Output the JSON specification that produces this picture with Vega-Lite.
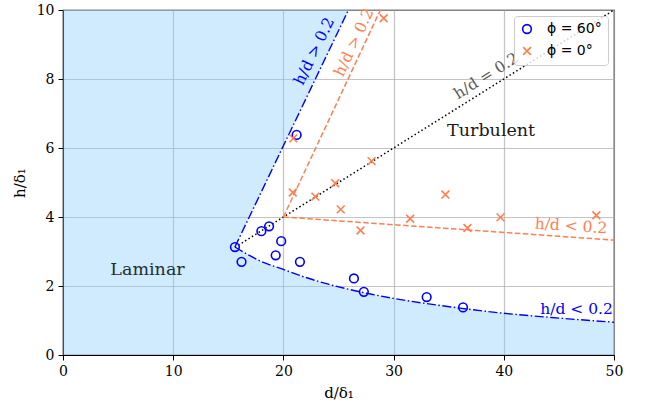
{
  "$schema": "https://vega.github.io/schema/vega-lite/v6.json",
  "width": 551,
  "height": 345,
  "autosize": "none",
  "padding": {"left": 63, "top": 10, "right": 33, "bottom": 50},
  "background": "white",
  "config": {
    "view": {"stroke": "#000", "strokeWidth": 1.2},
    "font": "DejaVu Serif",
    "axis": {
      "labelFont": "DejaVu Serif", "labelFontSize": 14, "labelColor": "#000", "labelFlush": false,
      "titleFont": "DejaVu Serif", "titleFontSize": 15, "titleFontWeight": "normal", "titleColor": "#000",
      "domainColor": "#000", "tickColor": "#000", "tickSize": 5, "labelPadding": 4,
      "gridColor": "#b0b0b0", "gridOpacity": 0.75, "gridWidth": 1.2
    },
    "legend": {
      "orient": "top-right", "offset": 6, "padding": 6,
      "fillColor": "rgba(255,255,255,0.8)", "strokeColor": "#cccccc", "cornerRadius": 3,
      "labelFont": "DejaVu Sans", "labelFontSize": 14, "labelColor": "#000",
      "symbolStrokeWidth": 1.6, "symbolSize": 75, "rowPadding": 6, "labelOffset": 13
    }
  },
  "datasets": {
    "region": [
      {"d": 50, "h": 0}, {"d": 50, "h": 0.95}, {"d": 45, "h": 1.07}, {"d": 40, "h": 1.21},
      {"d": 36, "h": 1.36}, {"d": 33, "h": 1.49}, {"d": 30, "h": 1.64}, {"d": 28, "h": 1.76},
      {"d": 26, "h": 1.9}, {"d": 24, "h": 2.06}, {"d": 22, "h": 2.25}, {"d": 20, "h": 2.48},
      {"d": 18, "h": 2.71}, {"d": 17, "h": 2.87}, {"d": 15.6, "h": 3.13}, {"d": 25.9, "h": 10}
    ],
    "curve": [
      {"d": 15.6, "h": 3.13}, {"d": 17, "h": 2.87}, {"d": 18, "h": 2.71}, {"d": 20, "h": 2.48},
      {"d": 22, "h": 2.25}, {"d": 24, "h": 2.06}, {"d": 26, "h": 1.9}, {"d": 28, "h": 1.76},
      {"d": 30, "h": 1.64}, {"d": 33, "h": 1.49}, {"d": 36, "h": 1.36}, {"d": 40, "h": 1.21},
      {"d": 45, "h": 1.07}, {"d": 50, "h": 0.95}
    ],
    "points": [
      {"phi": "ϕ = 60°", "d": 15.6, "h": 3.13}, {"phi": "ϕ = 60°", "d": 16.2, "h": 2.7},
      {"phi": "ϕ = 60°", "d": 18.0, "h": 3.59}, {"phi": "ϕ = 60°", "d": 18.7, "h": 3.73},
      {"phi": "ϕ = 60°", "d": 19.8, "h": 3.3}, {"phi": "ϕ = 60°", "d": 19.3, "h": 2.89},
      {"phi": "ϕ = 60°", "d": 21.2, "h": 6.38}, {"phi": "ϕ = 60°", "d": 21.5, "h": 2.7},
      {"phi": "ϕ = 60°", "d": 26.4, "h": 2.22}, {"phi": "ϕ = 60°", "d": 27.3, "h": 1.83},
      {"phi": "ϕ = 60°", "d": 33.0, "h": 1.68}, {"phi": "ϕ = 60°", "d": 36.3, "h": 1.38},
      {"phi": "ϕ = 0°", "d": 20.9, "h": 6.28}, {"phi": "ϕ = 0°", "d": 29.1, "h": 9.76},
      {"phi": "ϕ = 0°", "d": 20.85, "h": 4.71}, {"phi": "ϕ = 0°", "d": 22.9, "h": 4.59},
      {"phi": "ϕ = 0°", "d": 24.7, "h": 4.98}, {"phi": "ϕ = 0°", "d": 28.0, "h": 5.62},
      {"phi": "ϕ = 0°", "d": 25.2, "h": 4.22}, {"phi": "ϕ = 0°", "d": 27.0, "h": 3.61},
      {"phi": "ϕ = 0°", "d": 31.5, "h": 3.95}, {"phi": "ϕ = 0°", "d": 34.7, "h": 4.65},
      {"phi": "ϕ = 0°", "d": 36.7, "h": 3.68}, {"phi": "ϕ = 0°", "d": 39.7, "h": 3.99},
      {"phi": "ϕ = 0°", "d": 48.4, "h": 4.05}
    ]
  },
  "encoding": {
    "x": {"field": "d", "type": "quantitative", "scale": {"domain": [0, 50], "nice": false},
          "axis": {"values": [0, 10, 20, 30, 40, 50], "grid": true, "title": "d/δ₁", "titlePadding": 7}},
    "y": {"field": "h", "type": "quantitative", "scale": {"domain": [0, 10], "nice": false},
          "axis": {"values": [0, 2, 4, 6, 8, 10], "grid": true, "title": "h/δ₁", "titlePadding": 9}}
  },
  "layer": [
    {
      "data": {"name": "region"},
      "mark": {"type": "area", "orient": "horizontal", "color": "#87cefa", "opacity": 0.4},
      "encoding": {"x2": {"datum": 0}}
    },
    {
      "data": {"values": [{"d": 15.6, "h": 3.12}, {"d": 50, "h": 10}]},
      "mark": {"type": "line", "color": "#000", "strokeWidth": 1.5, "strokeDash": [1.5, 2.5]},
      "encoding": {}
    },
    {
      "data": {"values": [{"d": 15.6, "h": 3.13}, {"d": 25.9, "h": 10}]},
      "mark": {"type": "line", "color": "#0000ff", "strokeWidth": 1.4, "strokeDash": [9, 2.5, 1.5, 2.5]},
      "encoding": {}
    },
    {
      "data": {"name": "curve"},
      "mark": {"type": "line", "color": "#0000ff", "strokeWidth": 1.4, "strokeDash": [9, 2.5, 1.5, 2.5], "interpolate": "monotone"},
      "encoding": {}
    },
    {
      "data": {"values": [{"d": 20, "h": 4}, {"d": 28.8, "h": 10}]},
      "mark": {"type": "line", "color": "#ff7f50", "strokeWidth": 1.5, "strokeDash": [5.5, 2.5]},
      "encoding": {}
    },
    {
      "data": {"values": [{"d": 20, "h": 4}, {"d": 50, "h": 3.33}]},
      "mark": {"type": "line", "color": "#ff7f50", "strokeWidth": 1.5, "strokeDash": [5.5, 2.5]},
      "encoding": {}
    },
    {
      "data": {"name": "points"},
      "mark": {"type": "point", "filled": false, "strokeWidth": 1.6, "size": 75, "opacity": 1},
      "encoding": {
        "color": {"field": "phi", "type": "nominal",
                  "scale": {"domain": ["ϕ = 60°", "ϕ = 0°"], "range": ["#0000ff", "#ff7f50"]},
                  "legend": {"title": null}},
        "shape": {"field": "phi", "type": "nominal",
                  "scale": {"domain": ["ϕ = 60°", "ϕ = 0°"], "range": ["circle", "M-0.9,-0.9L0.9,0.9M-0.9,0.9L0.9,-0.9"]},
                  "legend": {"title": null}}
      }
    },
    {
      "data": {"values": [{"label": "Laminar", "d": 7.67, "h": 2.46}]},
      "mark": {"type": "text", "font": "DejaVu Serif", "fontSize": 17.5, "color": "#1c3038", "align": "center", "baseline": "middle"},
      "encoding": {"text": {"field": "label"}}
    },
    {
      "data": {"values": [{"label": "Turbulent", "d": 38.85, "h": 6.49}]},
      "mark": {"type": "text", "font": "DejaVu Serif", "fontSize": 17.5, "color": "#1a1a1a", "align": "center", "baseline": "middle"},
      "encoding": {"text": {"field": "label"}}
    },
    {
      "data": {"values": [{"label": "h/d > 0.2", "d": 22.8, "h": 8.81}]},
      "mark": {"type": "text", "font": "DejaVu Serif", "fontSize": 15.5, "color": "#0000ff", "align": "center", "baseline": "middle", "angle": -64},
      "encoding": {"text": {"field": "label"}}
    },
    {
      "data": {"values": [{"label": "h/d > 0.2", "d": 26.4, "h": 9.06}]},
      "mark": {"type": "text", "font": "DejaVu Serif", "fontSize": 15.5, "color": "#ff7f50", "align": "center", "baseline": "middle", "angle": -65},
      "encoding": {"text": {"field": "label"}}
    },
    {
      "data": {"values": [{"label": "h/d = 0.2", "d": 38.4, "h": 8.09}]},
      "mark": {"type": "text", "font": "DejaVu Serif", "fontSize": 15.5, "color": "#5a5a5a", "align": "center", "baseline": "middle", "angle": -32},
      "encoding": {"text": {"field": "label"}}
    },
    {
      "data": {"values": [{"label": "h/d < 0.2", "d": 46.1, "h": 3.74}]},
      "mark": {"type": "text", "font": "DejaVu Serif", "fontSize": 15.5, "color": "#ff7f50", "align": "center", "baseline": "middle", "angle": 4},
      "encoding": {"text": {"field": "label"}}
    },
    {
      "data": {"values": [{"label": "h/d < 0.2", "d": 46.6, "h": 1.33}]},
      "mark": {"type": "text", "font": "DejaVu Serif", "fontSize": 15.5, "color": "#0000ff", "align": "center", "baseline": "middle"},
      "encoding": {"text": {"field": "label"}}
    }
  ]
}
